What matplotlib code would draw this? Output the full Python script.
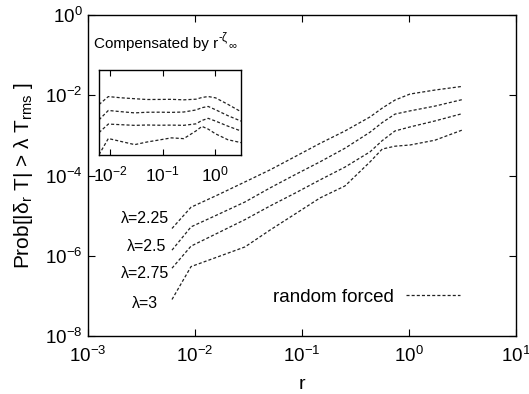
import numpy as np
import matplotlib
matplotlib.use("Agg")
import matplotlib.pyplot as plt
from matplotlib.ticker import LogFormatterSciNotation, NullLocator, FixedLocator

plt.rcParams['font.family'] = ['Liberation Sans', 'DejaVu Sans']
plt.rcParams['mathtext.fontset'] = 'custom'
plt.rcParams['mathtext.rm'] = 'Liberation Sans'
plt.rcParams['mathtext.it'] = 'Liberation Sans:italic'
plt.rcParams['mathtext.default'] = 'regular'
plt.rcParams['lines.scale_dashes'] = False

# ---- data (log10 values) ----
log_r = [-2.215, -2.037, -1.80, -1.533, -1.299, -1.065, -0.832, -0.598, -0.364, -0.25, -0.131, 0.009, 0.243, 0.495]
log_p_225 = [-5.32, -4.79, -4.50, -4.16, -3.86, -3.53, -3.20, -2.89, -2.54, -2.32, -2.12, -1.97, -1.87, -1.78]
log_p_250 = [-5.86, -5.28, -4.99, -4.66, -4.31, -3.98, -3.66, -3.32, -2.92, -2.68, -2.47, -2.39, -2.27, -2.11]
log_p_275 = [-6.31, -5.76, -5.45, -5.10, -4.76, -4.44, -4.11, -3.79, -3.41, -3.13, -2.89, -2.79, -2.64, -2.46]
log_p_300 = [-7.09, -6.27, -6.04, -5.78, -5.36, -4.96, -4.56, -4.26, -3.66, -3.34, -3.27, -3.24, -3.12, -2.87]
lambda_labels = ['λ=2.25', 'λ=2.5', 'λ=2.75', 'λ=3']
ZETA_INF = 1.4

r = 10.0 ** np.array(log_r)
series = [10.0 ** np.array(s) for s in (log_p_225, log_p_250, log_p_275, log_p_300)]

W, H = 529, 394
fig = plt.figure(figsize=(W / 100, H / 100), dpi=100)
ax = fig.add_axes([88 / W, 1 - 336 / H, 428 / W, 321 / H])

line_color = '#222222'
dash = (0, (2.2, 1.5))
for i, p in enumerate(series):
    ax.plot(r, p, color=line_color, lw=0.9, ls=dash,
            label='random forced' if i == 0 else None)

ax.set_xscale('log')
ax.set_yscale('log')
ax.set_xlim(1e-3, 1e1)
ax.set_ylim(1e-8, 1e0)
ax.xaxis.set_major_locator(FixedLocator([1e-3, 1e-2, 1e-1, 1e0, 1e1]))
ax.yaxis.set_major_locator(FixedLocator([1e-8, 1e-6, 1e-4, 1e-2, 1e0]))
ax.xaxis.set_minor_locator(NullLocator())
ax.yaxis.set_minor_locator(NullLocator())
ax.xaxis.set_major_formatter(LogFormatterSciNotation())
ax.yaxis.set_major_formatter(LogFormatterSciNotation())
ax.tick_params(which='both', direction='in', top=True, right=True,
               length=5, width=0.8, labelsize=13.5)
ax.tick_params(axis='x', pad=7)
ax.tick_params(axis='y', pad=4)
for s in ax.spines.values():
    s.set_linewidth(1.0)

ax.set_xlabel('r', fontsize=14, labelpad=7)
ax.set_ylabel(r'Prob[|$\delta_r$ T| > $\lambda$ T$_{rms}$ ]', fontsize=15, labelpad=7)

# lambda labels
label_x = [10 ** -2.243, 10 ** -2.271, 10 ** -2.243, 10 ** -2.346]
label_y = [10 ** -5.08, 10 ** -5.78, 10 ** -6.45, 10 ** -7.18]
for lx, ly, t in zip(label_x, label_y, lambda_labels):
    ax.text(lx, ly, t, ha='right', va='center', fontsize=11.5)

leg = ax.legend(loc='center right', bbox_to_anchor=(0.869, 0.1215),
                frameon=False, markerfirst=False, fontsize=13.5,
                handlelength=2.9, handletextpad=0.6, borderpad=0, borderaxespad=0)

# ---- inset ----
ins = fig.add_axes([99 / W, 1 - 155 / H, 142 / W, 85 / H])
for p in series:
    ins.plot(r, p * r ** (-ZETA_INF), color=line_color, lw=0.9, ls=dash)
ins.set_xscale('log')
ins.set_yscale('log')
ins.set_xlim(r[0], r[-1])
ins.set_ylim(1e-4, 1e-1)
ins.xaxis.set_major_locator(FixedLocator([1e-2, 1e-1, 1e0]))
ins.xaxis.set_minor_locator(NullLocator())
ins.xaxis.set_major_formatter(LogFormatterSciNotation())
ins.yaxis.set_major_locator(NullLocator())
ins.yaxis.set_minor_locator(NullLocator())
ins.tick_params(which='both', direction='in', top=True, length=4, width=0.8,
                labelsize=12.5, pad=7)
for s in ins.spines.values():
    s.set_linewidth(1.0)

# inset title: "Compensated by r^{-zeta_inf}"
t1 = fig.text(94 / W, 1 - 44 / H, 'Compensated by r', fontsize=11,
              ha='left', va='center')
t2 = fig.text(0, 0, '-ζ', fontsize=8.5, ha='left', va='bottom')
t2.set_transform(matplotlib.transforms.IdentityTransform())
fig.canvas.draw()
bb = t1.get_window_extent()
t2.set_position((bb.x1 + 0.5, bb.y0 + 0.55 * bb.height))
fig.canvas.draw()
bb2 = t2.get_window_extent()
t3 = fig.text(0, 0, '∞', fontsize=8, ha='left', va='center')
t3.set_transform(matplotlib.transforms.IdentityTransform())
t3.set_position((bb2.x1 + 1.0, bb.y0 + 0.45 * bb.height))

fig.savefig('out.png', dpi=100)
